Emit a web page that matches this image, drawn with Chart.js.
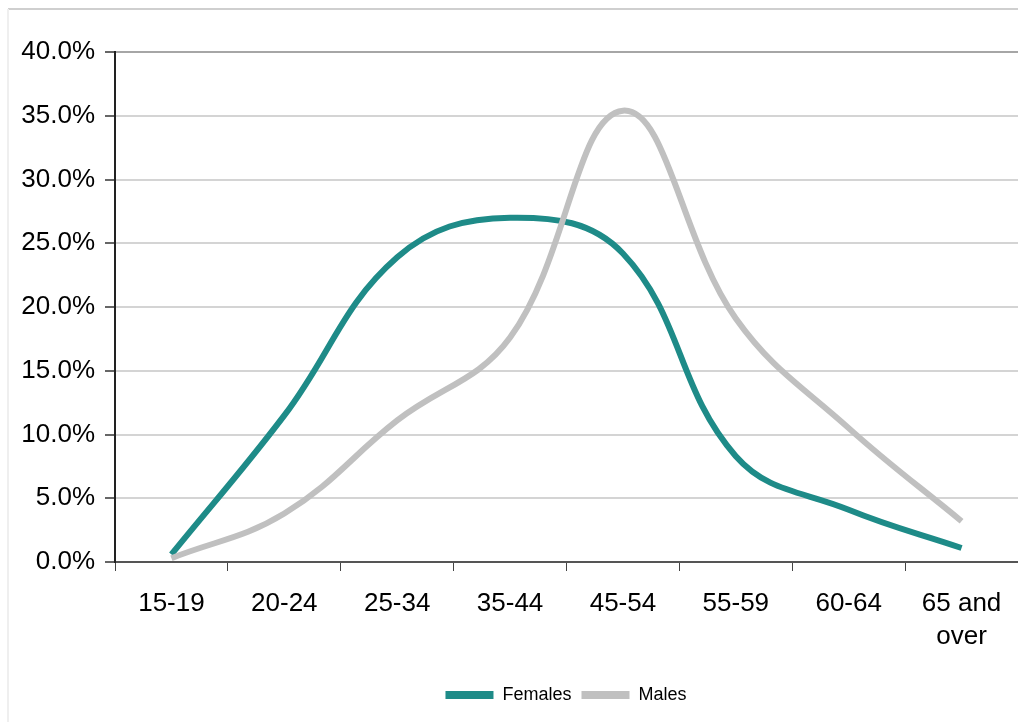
<!DOCTYPE html>
<html>
<head>
<meta charset="utf-8">
<script src="https://cdn.jsdelivr.net/npm/chart.js@4/dist/chart.umd.min.js"></script>
<style>
  html, body { margin: 0; padding: 0; background: #ffffff; overflow: hidden; }
  #wrap { position: relative; width: 1018px; height: 722px; overflow: hidden; }
  #chart { position: absolute; left: 0; top: 0; }
</style>
</head>
<body>
<div id="wrap"><canvas id="chart" width="1132" height="722"></canvas></div>
<script>
// Age groups along the horizontal axis
const ageGroups = ['15-19', '20-24', '25-34', '35-44', '45-54', '55-59', '60-64', ['65 and', 'over']];

// Share of each sex in each age group (percent)
const females = [0.6, 11.5, 23.9, 27.0, 24.2, 8.3, 4.1, 1.1];
const males   = [0.3, 3.8, 11.1, 17.6, 35.4, 19.1, 10.5, 3.2];

const seriesNames = ['Females', 'Males'];
const seriesColors = ['#1e8b88', '#c0c0c0'];

const tickFont = { family: '"Liberation Sans Narrow", "Liberation Sans", Arial, sans-serif', size: 26, lineHeight: 1.25 };

// Light frame around the figure
const framePlugin = {
  id: 'frame',
  beforeDraw(chart) {
    const ctx = chart.ctx;
    ctx.save();
    ctx.fillStyle = '#ffffff';
    ctx.fillRect(0, 0, chart.width, chart.height);
    ctx.strokeStyle = '#cfcfcf';
    ctx.lineWidth = 2;
    ctx.beginPath();
    ctx.moveTo(8, 9);
    ctx.lineTo(chart.width, 9);
    ctx.stroke();
    ctx.strokeStyle = '#efefef';
    ctx.beginPath();
    ctx.moveTo(8, 9);
    ctx.lineTo(8, chart.height);
    ctx.stroke();
    ctx.restore();
  }
};

new Chart(document.getElementById('chart'), {
  type: 'line',
  data: {
    labels: ageGroups,
    datasets: [
      {
        label: seriesNames[0],
        data: females,
        borderColor: seriesColors[0],
        backgroundColor: seriesColors[0],
        borderWidth: 6,
        tension: 0.4,
        pointRadius: 0,
        order: 1
      },
      {
        label: seriesNames[1],
        data: males,
        borderColor: seriesColors[1],
        backgroundColor: seriesColors[1],
        borderWidth: 6,
        tension: 0.4,
        pointRadius: 0,
        order: 0
      }
    ]
  },
  options: {
    responsive: false,
    animation: false,
    devicePixelRatio: 1,
    layout: { padding: { left: 0, right: 0, top: 52, bottom: 8 } },
    scales: {
      x: {
        offset: true,
        grid: {
          offset: true,
          drawOnChartArea: false,
          drawTicks: true,
          tickLength: 9,
          tickColor: '#444444',
          tickWidth: 1
        },
        border: { display: true, color: '#555555', width: 2 },
        ticks: {
          color: '#000000',
          font: tickFont,
          padding: 17,
          maxRotation: 0,
          autoSkip: false
        },
        afterFit(scale) { scale.height = 114; }
      },
      y: {
        min: 0,
        max: 40,
        grid: {
          color: (c) => (c.tick && c.tick.value === 40) ? '#a6a6a6' : '#d4d4d4',
          lineWidth: 2,
          tickLength: 10,
          tickColor: '#666666'
        },
        border: { display: true, color: '#222222', width: 2 },
        ticks: {
          stepSize: 5,
          color: '#000000',
          font: tickFont,
          padding: 10,
          callback: (v) => v.toFixed(1) + '%'
        },
        afterFit(scale) { scale.width = 115; }
      },
      // empty strip to the right of the plot, beyond the visible edge
      spacer: {
        type: 'linear',
        position: 'right',
        display: true,
        grid: { display: false, drawTicks: false },
        border: { display: false },
        ticks: { display: false },
        afterFit(scale) { scale.width = 114; }
      }
    },
    plugins: {
      legend: {
        position: 'bottom',
        labels: {
          boxWidth: 48,
          boxHeight: 8,
          color: '#000000',
          padding: 10,
          font: { family: '"Liberation Sans", Arial, sans-serif', size: 18 },
          generateLabels(chart) {
            const items = Chart.defaults.plugins.legend.labels.generateLabels(chart);
            items.forEach((it) => { it.lineWidth = 0; });
            return items.sort((a, b) => a.datasetIndex - b.datasetIndex);
          }
        }
      },
      tooltip: { enabled: false }
    }
  },
  plugins: [framePlugin]
});
</script>
</body>
</html>
